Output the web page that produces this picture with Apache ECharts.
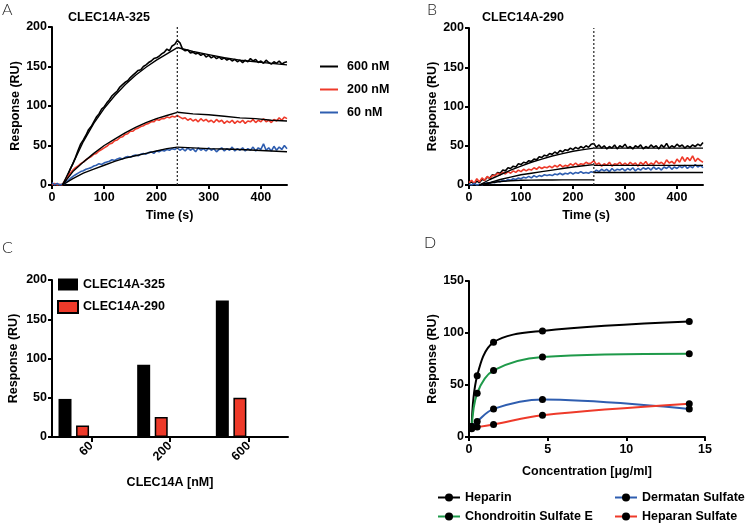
<!DOCTYPE html>
<html>
<head>
<meta charset="utf-8">
<script src="https://cdn.jsdelivr.net/npm/echarts@6/dist/echarts.min.js"></script>
<style>
html, body { margin: 0; padding: 0; background: #fff; }
#chart { width: 745px; height: 525px; }
</style>
</head>
<body>
<div id="chart"></div>
<script>
// ---- panel A / B : sensorgrams, one reading every 5 s from 0 to 450 s ----
const sampleStep = 5;
const a600 = [0,1,0,0,1,4,12,20,27,35, 44,52,57,63,70,74,80,86,90,96, 99,104,108,113,116,119,124,127,130,132,
  136,139,142,145,146,150,152,155,157,160, 161,163,166,168,172,170,176,178,183,180, 172,170,171,167,168,166,167,164,166,162,
  164,161,163,160,162,159,161,158,160,157, 159,156,158,155,158,156,160,157,159,155, 157,154,158,155,153,156,154,157,153,155, 156];
const a200 = [0,2,0,1,0,6,11,15,19,22, 24,27,29,32,34,36,39,40,43,45, 47,49,52,53,56,57,60,61,64,65,
  68,68,71,72,74,75,77,78,80,80, 83,82,84,84,86,85,87,86,88,86, 84,85,82,84,81,83,80,84,81,83,
  80,82,79,83,80,82,78,81,79,82, 78,81,79,82,78,81,80,83,79,82, 80,84,80,82,79,83,81,85,82,86, 84];
const a60 = [3,0,2,0,1,2,5,8,11,13, 15,17,18,20,21,22,24,25,27,26, 28,29,30,32,31,33,34,33,35,36,
  35,37,38,37,39,40,39,41,42,40, 43,42,44,43,45,44,46,45,47,44, 46,43,47,44,46,42,47,44,46,43,
  47,44,46,42,45,47,43,46,44,48, 43,46,44,47,43,46,44,48,43,47, 45,52,44,47,43,49,44,48,45,50, 46];
const b600 = [2,4,1,5,3,7,6,10,9,13, 12,16,15,19,18,22,21,24,23,27, 26,29,28,31,30,33,32,36,35,38,
  37,40,39,42,40,44,42,45,44,47, 45,48,46,49,47,50,48,52,53,48, 51,47,50,46,49,47,51,46,50,48,
  52,47,49,46,50,48,51,46,49,47, 51,48,50,46,51,48,53,47,50,48, 52,49,51,47,50,48,51,49,52,50, 54];
const b200 = [3,6,2,8,4,9,6,11,8,12, 12,15,13,16,14,17,15,18,16,19, 17,20,18,20,19,22,20,23,21,23,
  22,24,22,25,23,26,23,25,24,27, 25,28,25,27,26,29,27,28,31,26, 28,24,27,25,29,24,27,26,29,25,
  28,25,29,26,28,24,29,26,30,25, 28,26,31,27,29,26,32,28,30,27, 33,29,36,30,35,31,37,30,34,31, 29];
const b60 = [1,0,2,0,1,0,2,3,2,4, 3,5,4,6,5,7,6,8,7,9, 8,10,9,11,9,12,10,12,11,13,
  12,13,12,14,13,15,13,15,14,16, 14,16,15,17,15,16,15,17,16,19, 17,20,18,20,17,21,18,20,19,21,
  18,21,19,22,18,21,19,22,20,22, 19,23,20,22,19,23,21,24,20,23, 21,24,22,25,21,24,22,26,23,25, 22];

// fitted curves (black)
const fitAssocTimes = [20,40,60,80,100,120,140,160,180,200,220,240];
const fitDissocTimes = [240,270,300,330,360,390,420,450];
const fitA600Assoc = [0,27,55,78,97,113,127,139,149,158,166,174];
const fitA600Dissoc = [174,169,165,161,158,156,154,152];
const fitA200Assoc = [0,17,29,40,50,58,66,73,79,84,88,92];
const fitA200Dissoc = [92,90,89,87,85,84,82,81];
const fitA60Assoc = [0,8,15,20,25,30,34,37,40,43,46,48];
const fitA60Dissoc = [48,47,46,45.5,45,44,43,42];
const fitB600Assoc = [0,7,13,19,24,29,33,37,40,43,45,47];
const fitB600Dissoc = [47,47,47,47,47,47,47,47];
const fitB200Assoc = [0,3,7,10,13,15,17,19,21,23,24.5,26];
const fitB200Dissoc = [25,25,25,25,25,25,25,25];
const fitB60Assoc = [0,2.5,4.5,5.5,6,6.2,6.3,6.4,6.5,6.5,6.5,6.5];
const fitB60Dissoc = [16,16,16,16,16,16,16,16];

const injectionEnd = 240;
const timeTicks = [0,100,200,300,400];

// ---- panel C ----
const concLabels = ['60','200','600'];
const clec325 = [48.5, 92, 174];
const clec290 = [14.5, 25.5, 50];

// ---- panel D ----
const concD = [0.17, 0.52, 1.56, 4.67, 14];
const heparin = [10, 59, 91, 102, 111];
const chondroitinE = [8, 42, 64, 77, 80];
const dermatan = [10, 15, 27, 36, 27];
const heparan = [9, 9.5, 12, 21, 32];

const FONT = '"Liberation Sans", Arial, Helvetica, sans-serif';
const RED = '#ee3a2a', BLUE = '#2f5eb0', GREEN = '#1f9a4a';

const sampleTimes = a600.map((_, i) => i * sampleStep);
const pair = (xs, ys) => ys.map((v, i) => [xs[i], v]);

function axisBase() {
  return {
    axisLine: { show: true, onZero: false, lineStyle: { color: '#000', width: 2 } },
    axisTick: { show: true, length: 4, lineStyle: { color: '#000', width: 2 } },
    axisLabel: { color: '#000', fontWeight: 'bold', fontSize: 12.5, fontFamily: FONT },
    splitLine: { show: false },
    nameLocation: 'middle',
    nameTextStyle: { color: '#000', fontWeight: 'bold', fontSize: 12.5, fontFamily: FONT }
  };
}
function timeAxis(gridIndex) {
  const a = axisBase();
  return Object.assign(a, {
    type: 'value', gridIndex, min: 0, max: 450, interval: 100, name: 'Time (s)', nameGap: 24,
    axisTick: Object.assign(a.axisTick, { customValues: timeTicks }),
    axisLabel: Object.assign(a.axisLabel, { customValues: timeTicks, margin: 6 })
  });
}
function respAxis(gridIndex, max, gap) {
  const a = axisBase();
  return Object.assign(a, {
    type: 'value', gridIndex, min: 0, max, interval: 50, name: 'Response (RU)', nameGap: gap,
    axisLabel: Object.assign(a.axisLabel, { margin: 5 })
  });
}
function dataLine(name, xi, ys, color) {
  return { name, type: 'line', xAxisIndex: xi, yAxisIndex: xi, data: pair(sampleTimes, ys),
    symbol: 'none', color, lineStyle: { color, width: 1.6 }, silent: true };
}
function fitLine(xi, xs, ys) {
  return { name: 'fit', type: 'line', xAxisIndex: xi, yAxisIndex: xi, data: pair(xs, ys),
    symbol: 'none', lineStyle: { color: '#000', width: 1.4 }, silent: true, z: 3 };
}
function injectionLine(xi) {
  return { name: 'injection', type: 'line', xAxisIndex: xi, yAxisIndex: xi,
    data: [[injectionEnd, 0], [injectionEnd, 200]], symbol: 'none',
    lineStyle: { color: '#333', width: 1.3, type: [2, 2] }, silent: true, z: 4 };
}
function bindLine(name, ys, color) {
  return { name, type: 'line', xAxisIndex: 3, yAxisIndex: 3, data: pair(concD, ys),
    smooth: 0.35, symbol: 'circle', symbolSize: 7,
    itemStyle: { color: '#000' }, lineStyle: { color, width: 2 }, z: 3 };
}

const letterStyle = { fontFamily: 'Lato, "Open Sans", sans-serif', fontWeight: 300, fontSize: 16, color: '#222' };
const headStyle = { fontFamily: FONT, fontWeight: 'bold', fontSize: 12.5, color: '#000' };
const legendText = { fontFamily: FONT, fontWeight: 'bold', fontSize: 12.5, color: '#000' };

const cAxisX = Object.assign(axisBase(), {
  type: 'category', gridIndex: 2, data: concLabels, name: 'CLEC14A [nM]', nameGap: 39
});
cAxisX.axisTick = Object.assign(cAxisX.axisTick, { alignWithLabel: true, length: 5 });
cAxisX.axisLabel = Object.assign(cAxisX.axisLabel, { rotate: 45, margin: 7 });

const dAxisX = Object.assign(axisBase(), {
  type: 'value', gridIndex: 3, min: 0, max: 15, interval: 5, name: 'Concentration [μg/ml]', nameGap: 28
});
dAxisX.axisLabel.margin = 6;

const option = {
  animation: false,
  backgroundColor: '#fff',
  title: [
    { text: 'A', left: 2, top: 2, padding: 0, textStyle: letterStyle },
    { text: 'B', left: 427, top: 2, padding: 0, textStyle: letterStyle },
    { text: 'C', left: 2, top: 240, padding: 0, textStyle: letterStyle },
    { text: 'D', left: 424, top: 235, padding: 0, textStyle: letterStyle },
    { text: 'CLEC14A-325', left: 68, top: 11, padding: 0, textStyle: headStyle },
    { text: 'CLEC14A-290', left: 482, top: 11, padding: 0, textStyle: headStyle }
  ],
  legend: [
    { data: ['600 nM', '200 nM', '60 nM'], orient: 'vertical', left: 320, top: 60, padding: 0,
      icon: 'rect', itemWidth: 18, itemHeight: 2, itemGap: 10,
      textStyle: Object.assign({ padding: [0, 0, 0, 4] }, legendText) },
    { data: ['CLEC14A-325', 'CLEC14A-290'], orient: 'vertical', left: 57, top: 278, padding: 0,
      icon: 'rect', itemWidth: 20, itemHeight: 12, itemGap: 9, textStyle: legendText },
    { data: ['Heparin', 'Chondroitin Sulfate E'], orient: 'vertical', left: 437, top: 491, padding: 0,
      itemWidth: 22, itemHeight: 10, itemGap: 6, textStyle: legendText },
    { data: ['Dermatan Sulfate', 'Heparan Sulfate'], orient: 'vertical', left: 614, top: 491, padding: 0,
      itemWidth: 22, itemHeight: 10, itemGap: 6, textStyle: legendText }
  ],
  grid: [
    { left: 52, top: 27, width: 235, height: 158 },
    { left: 469, top: 28, width: 234, height: 157 },
    { left: 52, top: 280, width: 236, height: 157 },
    { left: 469, top: 281, width: 236, height: 156 }
  ],
  xAxis: [timeAxis(0), timeAxis(1), cAxisX, dAxisX],
  yAxis: [respAxis(0, 200, 30), respAxis(1, 200, 30), respAxis(2, 200, 32), respAxis(3, 150, 30)],
  series: [
    dataLine('600 nM', 0, a600, '#000'),
    dataLine('200 nM', 0, a200, RED),
    dataLine('60 nM', 0, a60, BLUE),
    fitLine(0, fitAssocTimes, fitA600Assoc), fitLine(0, fitDissocTimes, fitA600Dissoc),
    fitLine(0, fitAssocTimes, fitA200Assoc), fitLine(0, fitDissocTimes, fitA200Dissoc),
    fitLine(0, fitAssocTimes, fitA60Assoc), fitLine(0, fitDissocTimes, fitA60Dissoc),
    injectionLine(0),

    dataLine('600 nM ', 1, b600, '#000'),
    dataLine('200 nM ', 1, b200, RED),
    dataLine('60 nM ', 1, b60, BLUE),
    fitLine(1, fitAssocTimes, fitB600Assoc), fitLine(1, fitDissocTimes, fitB600Dissoc),
    fitLine(1, fitAssocTimes, fitB200Assoc), fitLine(1, fitDissocTimes, fitB200Dissoc),
    fitLine(1, fitAssocTimes, fitB60Assoc), fitLine(1, fitDissocTimes, fitB60Dissoc),
    injectionLine(1),

    { name: 'CLEC14A-325', type: 'bar', xAxisIndex: 2, yAxisIndex: 2, data: clec325,
      barWidth: 13, barGap: '35%', itemStyle: { color: '#000' } },
    { name: 'CLEC14A-290', type: 'bar', xAxisIndex: 2, yAxisIndex: 2, data: clec290,
      barWidth: 13, barGap: '35%', itemStyle: { color: RED, borderColor: '#000', borderWidth: 1.5 } },
    // two empty slots, as in the original grouped layout
    { name: 'slot3', type: 'bar', xAxisIndex: 2, yAxisIndex: 2, data: ['-', '-', '-'], barWidth: 13, barGap: '35%' },
    { name: 'slot4', type: 'bar', xAxisIndex: 2, yAxisIndex: 2, data: ['-', '-', '-'], barWidth: 13, barGap: '35%' },

    bindLine('Heparin', heparin, '#000'),
    bindLine('Chondroitin Sulfate E', chondroitinE, GREEN),
    bindLine('Dermatan Sulfate', dermatan, BLUE),
    bindLine('Heparan Sulfate', heparan, RED)
  ]
};

const chart = echarts.init(document.getElementById('chart'), null, { renderer: 'canvas' });
chart.setOption(option);
</script>
</body>
</html>
